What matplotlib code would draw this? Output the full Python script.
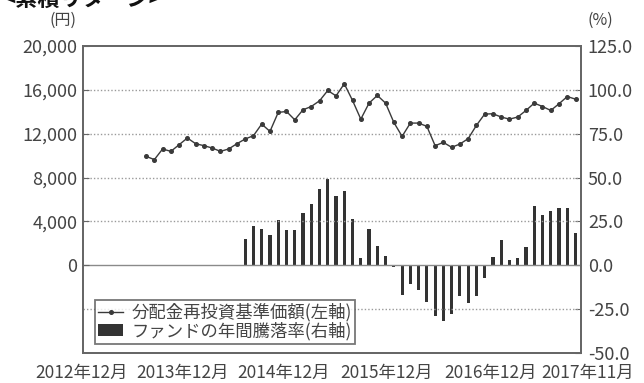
import numpy as np
import matplotlib.pyplot as plt
import matplotlib.transforms as mtransforms
from matplotlib.ticker import FuncFormatter
from matplotlib.lines import Line2D
from matplotlib.patches import Patch

plt.rcParams['font.family'] = ['Noto Sans CJK JP', 'DejaVu Sans']

# 月次インデックス 0 = 2012年12月, 59 = 2017年11月
months = np.arange(60)
tick_pos = [0, 12, 24, 36, 48, 59]
tick_labels = ['2012年12月', '2013年12月', '2014年12月', '2015年12月', '2016年12月', '2017年11月']

# 分配金再投資基準価額（円） 2013年7月〜
nav_start = 7
nav = [9940, 9640, 10610, 10390, 11000, 11610, 11090, 10910, 10700, 10390,
       10610, 11090, 11520, 11820, 12880, 12210, 13940, 14030, 13270, 14180,
       14480, 15000, 15940, 15450, 16550, 15030, 13330, 14790, 15490, 14790,
       13030, 11760, 12970, 12970, 12670, 10910, 11210, 10760, 11060, 11550,
       12760, 13790, 13820, 13520, 13330, 13520, 14120, 14790, 14480, 14120,
       14730, 15390, 15150]

# ファンドの年間騰落率（%） 2014年7月〜
ret_start = 19
ret = [15.3, 22.3, 21.0, 17.2, 25.7, 20.0, 19.9, 29.9, 35.0, 43.7,
       49.4, 39.4, 42.6, 26.5, 4.0, 20.5, 11.0, 5.3, -1.0, -17.0,
       -10.8, -14.0, -20.6, -28.8, -31.6, -27.8, -17.4, -21.6, -17.4, -7.0,
       4.9, 14.4, 3.0, 4.4, 10.6, 33.7, 28.6, 30.9, 32.4, 32.4,
       18.2]

fig = plt.figure(figsize=(6.44, 3.83), dpi=100)
ax = fig.add_axes([0.129, 0.078, 0.773, 0.802])
ax2 = ax.twinx()

ax.set_xlim(-0.63, 59.65)
ax.set_ylim(-8000, 20000)
ax2.set_ylim(-50, 125)

# グリッド
for v in [-4000, 4000, 8000, 12000, 16000]:
    ax.axhline(v, color='#9a9a9a', lw=1.0, ls=(0, (1, 1.5)), zorder=0)
ax.axhline(0, color='#8a8a8a', lw=1.0, zorder=1)

# 騰落率（棒）
x_ret = months[ret_start:ret_start + len(ret)]
ax2.bar(x_ret, ret, width=0.38, color='#333333', zorder=2)

# 基準価額（折れ線）
x_nav = months[nav_start:nav_start + len(nav)]
ax.plot(x_nav, nav, color='#3a3a3a', lw=1.0, marker='o', ms=2.6, zorder=3)
ax.set_zorder(ax2.get_zorder() + 1)
ax.patch.set_visible(False)

ax.set_yticks([0, 4000, 8000, 12000, 16000, 20000])
ax.yaxis.set_major_formatter(FuncFormatter(lambda v, p: f'{int(v):,}'))
ax2.set_yticks([-50, -25, 0, 25, 50, 75, 100, 125])
ax2.yaxis.set_major_formatter(FuncFormatter(lambda v, p: f'{v:.1f}'))

ax.set_xticks(tick_pos)
ax.set_xticklabels(tick_labels)

for a in (ax, ax2):
    for s in a.spines.values():
        s.set_color('#666666')
        s.set_linewidth(1.3)
    a.tick_params(axis='both', colors='#666666', labelcolor='#444444',
                  labelsize=13, direction='in', length=4)
ax.tick_params(axis='x', length=0, pad=8, labelsize=12.5)
ax.tick_params(axis='y', pad=4)
ax2.tick_params(axis='y', pad=5)

# 年月ラベルを少し広げて並べる
shifts = [-7, -5, -3, 1, 6, 12]
for lab, dx in zip(ax.get_xticklabels(), shifts):
    off = mtransforms.ScaledTranslation(dx / 100, 0, fig.dpi_scale_trans)
    lab.set_transform(lab.get_transform() + off)

fig.text(0.098, 0.946, '(円)', ha='center', va='center', fontsize=11.5, color='#444444')
fig.text(0.932, 0.946, '(%)', ha='center', va='center', fontsize=11.5, color='#444444')
fig.text(0.004, 0.970, '<累積リターン>', ha='left', va='bottom', fontsize=16,
         fontweight='bold', color='#111111')

handles = [Line2D([], [], color='#3a3a3a', lw=1.0, marker='o', ms=2.6),
           Patch(facecolor='#333333')]
labels = ['分配金再投資基準価額(左軸)', 'ファンドの年間騰落率(右軸)']
leg = ax.legend(handles, labels, loc='lower left', bbox_to_anchor=(0.024, 0.030),
                fontsize=12.5, frameon=True, fancybox=False, edgecolor='#555555',
                handlelength=1.4, handleheight=0.7, handletextpad=0.5,
                borderpad=0.2, labelspacing=0.0, borderaxespad=0)
leg.get_frame().set_linewidth(1.3)
for t in leg.get_texts():
    t.set_color('#444444')

fig.savefig('out.png', dpi=100)
